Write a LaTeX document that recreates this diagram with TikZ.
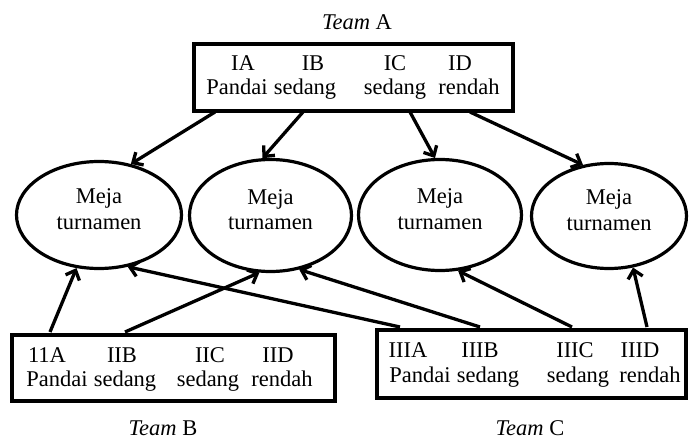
\documentclass[tikz,border=0pt]{standalone}
\usepackage{fontspec}
\setmainfont{Liberation Serif}
\usetikzlibrary{shapes.geometric,arrows.meta}
\begin{document}
\begin{tikzpicture}[x=1pt,y=-1pt,
  teambox/.style={draw,line width=4.5pt,inner sep=0pt,rectangle},
  meja/.style={draw,ellipse,line width=3.2pt,inner sep=0pt,align=center,
    text depth=12pt,font=\fontsize{22.5}{25.5}\selectfont},
  lbl/.style={anchor=base,inner sep=0pt,font=\fontsize{22.5}{25}\selectfont},
  arr/.style={line width=3.3pt,-{Straight Barb[length=8pt,width=15pt,line width=3.3pt]}}]
\useasboundingbox[fill=white] (0,0) rectangle (689,439);

% boxes
\node[teambox,minimum width=319pt,minimum height=67pt] (boxA) at (353.5,77.5) {};
\node[teambox,minimum width=323pt,minimum height=66pt] (boxB) at (173.5,368) {};
\node[teambox,minimum width=309pt,minimum height=68pt] (boxC) at (531.5,364) {};

% titles
\node[lbl] (tA) at (357,29) {\textit{Team} A};
\node[lbl] (tB) at (163,435) {\textit{Team} B};
\node[lbl] (tC) at (530,435) {\textit{Team} C};

% box A texts
\node[lbl] (a1t) at (243,70) {IA};
\node[lbl] (a2t) at (313,70) {IB};
\node[lbl] (a3t) at (395,70) {IC};
\node[lbl] (a4t) at (460,70) {ID};
\node[lbl] (a1b) at (237,94) {Pandai};
\node[lbl] (a2b) at (305,94) {sedang};
\node[lbl] (a3b) at (395,94) {sedang};
\node[lbl] (a4b) at (469,94) {rendah};

% box B texts
\node[lbl] (b1t) at (47,362) {11A};
\node[lbl] (b2t) at (122,362) {IIB};
\node[lbl] (b3t) at (210,362) {IIC};
\node[lbl] (b4t) at (278,362) {IID};
\node[lbl] (b1b) at (57,386) {Pandai};
\node[lbl] (b2b) at (125,386) {sedang};
\node[lbl] (b3b) at (208,386) {sedang};
\node[lbl] (b4b) at (282,386) {rendah};

% box C texts
\node[lbl] (c1t) at (408,357) {IIIA};
\node[lbl] (c2t) at (480,357) {IIIB};
\node[lbl] (c3t) at (575,357) {IIIC};
\node[lbl] (c4t) at (640,357) {IIID};
\node[lbl] (c1b) at (420,382) {Pandai};
\node[lbl] (c2b) at (488,382) {sedang};
\node[lbl] (c3b) at (578,382) {sedang};
\node[lbl] (c4b) at (650,382) {rendah};

% ellipses
\node[meja,minimum width=165pt,minimum height=107pt] (e1) at (99,215) {Meja\\turnamen};
\node[meja,minimum width=162pt,minimum height=112pt] (e2) at (270.5,215.5) {Meja\\turnamen};
\node[meja,minimum width=163pt,minimum height=111pt] (e3) at (440,215) {Meja\\turnamen};
\node[meja,minimum width=155pt,minimum height=105pt] (e4) at (609,216) {Meja\\turnamen};

% connector start points
\coordinate (sA1) at (215,112);
\coordinate (sA2) at (303,112);
\coordinate (sA3) at (410,112);
\coordinate (sA4) at (470,112);
\coordinate (sB1) at (50,332);
\coordinate (sB2) at (125,332);
\coordinate (sC1) at (400,327);
\coordinate (sC2) at (480,327);
\coordinate (sC3) at (572,327);
\coordinate (sC4) at (647,327);

% arrows
\draw[arr] (sA1) -- (e1.58);
\draw[arr] (sA2) -- (e2.98);
\draw[arr] (sA3) -- (e3.95);
\draw[arr] (sA4) -- (e4.117);
\draw[arr] (sB1) -- (e1.247);
\draw[arr] (sB2) -- (e2.259);
\draw[arr] (sC1) -- (e1.299);
\draw[arr] (sC2) -- (e2.298);
\draw[arr] (sC3) -- (e3.288);
\draw[arr] (sC4) -- (e4.295);
\end{tikzpicture}
\end{document}
